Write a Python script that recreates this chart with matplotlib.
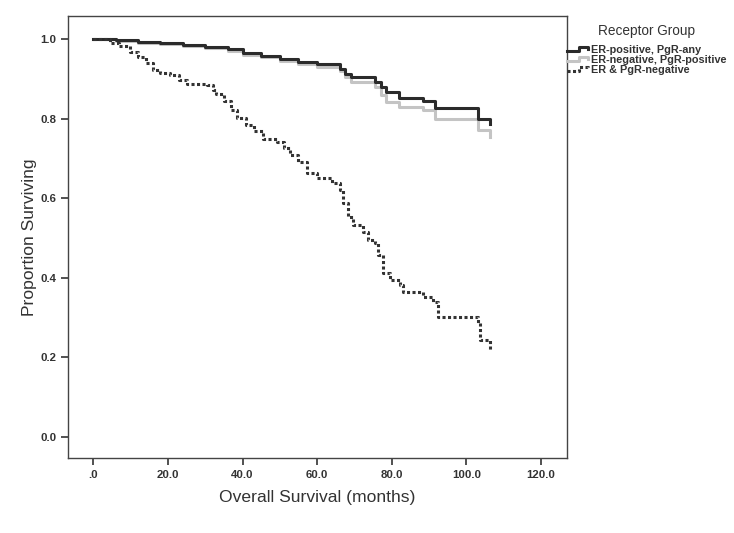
import matplotlib
matplotlib.use("Agg")
import matplotlib.pyplot as plt
from matplotlib.lines import Line2D
from matplotlib.legend_handler import HandlerLine2D
from matplotlib.ticker import FixedLocator, FuncFormatter

plt.rcParams['font.family'] = ['Liberation Sans', 'DejaVu Sans']

# Kaplan-Meier step data (months, proportion surviving)
erpos_t = [0, 6, 12, 18, 24, 30, 36, 40, 45, 50, 55, 60, 66, 67.5, 69, 75.5, 77, 78.5,
           82, 88.5, 91.6, 103.2, 106.3]
erpos_s = [1.0, 0.997, 0.993, 0.989, 0.986, 0.981, 0.975, 0.966, 0.958, 0.950, 0.943,
           0.937, 0.925, 0.912, 0.905, 0.893, 0.880, 0.868, 0.853, 0.844, 0.828, 0.799, 0.786]

erneg_t = [0, 6, 12, 18, 24, 30, 36, 40, 45, 50, 55, 60, 66, 67.5, 69, 75.5, 77, 78.5,
           82, 88.5, 91.6, 103.2, 106.3]
erneg_s = [1.0, 0.996, 0.991, 0.987, 0.983, 0.978, 0.971, 0.961, 0.954, 0.946, 0.938,
           0.930, 0.920, 0.905, 0.893, 0.880, 0.860, 0.842, 0.830, 0.822, 0.799, 0.771, 0.755]

neg_t = [0, 4.5, 7, 9.8, 12, 14, 16, 18, 20.6, 23, 25, 30.4, 32, 33, 35, 37, 38.4, 41, 43,
         45.6, 49.2, 51, 52.7, 55, 57.2, 59.9, 63.9, 66, 67, 68.4, 69.7, 72.4, 73.7, 75.5,
         76.4, 77.7, 79.5, 82.2, 83.1, 88.5, 91.2, 92.5, 103.2, 103.7, 106.3]
neg_s = [1.0, 0.991, 0.982, 0.968, 0.955, 0.940, 0.922, 0.915, 0.909, 0.897, 0.886, 0.884,
         0.872, 0.863, 0.845, 0.822, 0.801, 0.784, 0.770, 0.750, 0.742, 0.725, 0.709, 0.690,
         0.663, 0.650, 0.637, 0.620, 0.587, 0.553, 0.533, 0.516, 0.495, 0.487, 0.457, 0.411,
         0.394, 0.382, 0.364, 0.352, 0.340, 0.302, 0.286, 0.244, 0.219]

labels = ["ER-positive, PgR-any", "ER-negative, PgR-positive", "ER & PgR-negative"]
x_ticks = [0, 20, 40, 60, 80, 100, 120]
y_ticks = [0.0, 0.2, 0.4, 0.6, 0.8, 1.0]


class StepHandler(HandlerLine2D):
    # little step-shaped legend key like the original
    def create_artists(self, legend, orig_handle, xdescent, ydescent, width, height,
                       fontsize, trans):
        x0 = -xdescent
        y0 = -ydescent
        xs = [x0, x0 + 0.55 * width, x0 + 0.55 * width, x0 + 0.95 * width, x0 + 0.95 * width]
        ys = [y0 + 0.25 * height, y0 + 0.25 * height, y0 + 0.8 * height, y0 + 0.8 * height,
              y0 + 0.55 * height]
        ln = Line2D(xs, ys)
        self.update_prop(ln, orig_handle, legend)
        ln.set_transform(trans)
        return [ln]


fig = plt.figure(figsize=(7.34, 5.33), dpi=100)
ax = fig.add_axes([68 / 734, 1 - 458 / 533, (567 - 68) / 734, (458 - 16) / 533])

txt = '#333333'
ax.plot(erneg_t, erneg_s, drawstyle='steps-post', color='#c4c4c4', lw=2.2, label=labels[1])
ax.plot(erpos_t, erpos_s, drawstyle='steps-post', color='#2b2b2b', lw=2.2, label=labels[0])
ax.plot(neg_t, neg_s, drawstyle='steps-post', color='#333333', lw=2.2,
        linestyle=(0, (1.0, 0.8)), label=labels[2])

ax.set_xlim(-6.8, 127)
ax.set_ylim(-0.053, 1.058)
ax.xaxis.set_major_locator(FixedLocator(x_ticks))
ax.yaxis.set_major_locator(FixedLocator(y_ticks))
ax.xaxis.set_major_formatter(FuncFormatter(lambda v, p: ".0" if v == 0 else "%.1f" % v))
ax.yaxis.set_major_formatter(FuncFormatter(lambda v, p: "%.1f" % v))
ax.tick_params(direction='out', length=5, width=1.2, colors=txt, labelsize=8.2)
for lab in ax.get_xticklabels() + ax.get_yticklabels():
    lab.set_fontweight('bold')
for sp in ax.spines.values():
    sp.set_color('#444444')
    sp.set_linewidth(1.0)

ax.set_xlabel("Overall Survival (months)", fontsize=12.6, color=txt, labelpad=7)
ax.set_ylabel("Proportion Surviving", fontsize=12.6, color=txt, labelpad=2)

# legend in the order of the original
h, l = ax.get_legend_handles_labels()
order = [1, 0, 2]
leg = fig.legend([h[i] for i in order], [l[i] for i in order], title="Receptor Group",
                 loc='upper left', bbox_to_anchor=(567 / 734, 1 - 24 / 533),
                 frameon=False, handlelength=2.0, handletextpad=0.2, labelspacing=0.0,
                 borderpad=0, borderaxespad=0, prop={'size': 7.8, 'weight': 'bold'},
                 handler_map={Line2D: StepHandler()})
leg.get_title().set_fontsize(9.8)
leg.get_title().set_color(txt)
leg._legend_box.sep = 5
for t in leg.get_texts():
    t.set_color(txt)

fig.savefig("out.png", dpi=100)
